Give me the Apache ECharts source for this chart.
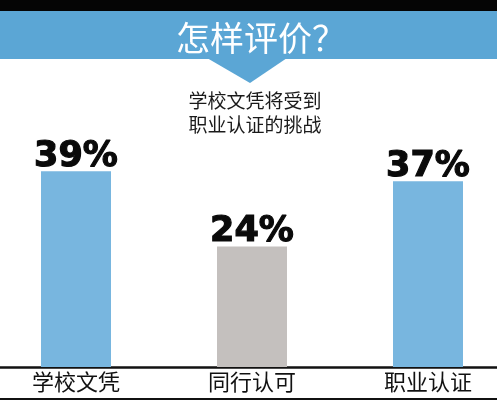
<!DOCTYPE html>
<html>
<head>
<meta charset="utf-8">
<script src="https://cdn.jsdelivr.net/npm/echarts@6/dist/echarts.min.js"></script>
<style>
  html, body { margin: 0; padding: 0; background: #ffffff; overflow: hidden; width: 497px; height: 401px; }
  #chart { width: 528px; height: 401px; margin-left: -12px; }
</style>
</head>
<body>
<div id="chart"></div>
<script>
// Survey results: how school diplomas fare against other forms of recognition
const categories = ['学校文凭', '同行认可', '职业认证'];
const shares = [39, 24, 37];
const barColors = ['#78b6df', '#c4c0be', '#78b6df'];
const heading = '怎样评价？';
const subheading = '学校文凭将受到\n职业认证的挑战';

// the canvas is a little wider than the page and shifted left by this much
const shift = 12;

const chart = echarts.init(document.getElementById('chart'), null, { renderer: 'canvas' });

chart.setOption({
  backgroundColor: '#ffffff',
  animation: false,
  graphic: [
    { type: 'rect', shape: { x: 0, y: 0, width: 528, height: 11 }, style: { fill: '#050505' }, z: 0 },
    { type: 'rect', shape: { x: 0, y: 11, width: 528, height: 48 }, style: { fill: '#5ba6d5' }, z: 0 },
    { type: 'polygon', shape: { points: [[207 + shift, 58], [287 + shift, 58], [250 + shift, 83]] }, style: { fill: '#5ba6d5' }, z: 0 },
    { type: 'line', shape: { x1: 0, y1: 399, x2: 528, y2: 399 }, style: { stroke: '#111111', lineWidth: 2 }, z: 5 }
  ],
  title: [
    {
      text: heading,
      left: 256 + shift, top: 16, textAlign: 'center',
      textStyle: { color: '#ffffff', fontSize: 34, fontWeight: 'normal', fontFamily: 'Noto Sans CJK SC' }
    },
    {
      text: subheading,
      left: 250 + shift, top: 84, textAlign: 'center',
      textStyle: { color: '#1a1a1a', fontSize: 19, lineHeight: 24, fontWeight: 'normal', fontFamily: 'Noto Sans CJK SC' }
    }
  ],
  grid: { left: 0, right: 0, top: 141, bottom: 34, containLabel: false },
  xAxis: {
    type: 'category',
    data: categories,
    axisLine: { show: true, lineStyle: { color: '#111111', width: 2.5 } },
    axisTick: { show: false },
    axisLabel: {
      color: '#111111', fontSize: 22, margin: 4,
      fontFamily: 'Noto Sans CJK SC'
    }
  },
  yAxis: { type: 'value', min: 0, max: 45, show: false, splitLine: { show: false } },
  series: [{
    type: 'bar',
    barWidth: 70,
    data: shares.map((v, i) => ({ value: v, itemStyle: { color: barColors[i] } })),
    label: {
      show: true,
      position: 'top',
      distance: -3,
      formatter: p => p.value + '%',
      color: '#0a0a0a',
      fontSize: 35,
      fontWeight: 900,
      fontFamily: 'DejaVu Sans',
      textBorderColor: '#0a0a0a',
      textBorderWidth: 1.2
    }
  }]
});
</script>
</body>
</html>
